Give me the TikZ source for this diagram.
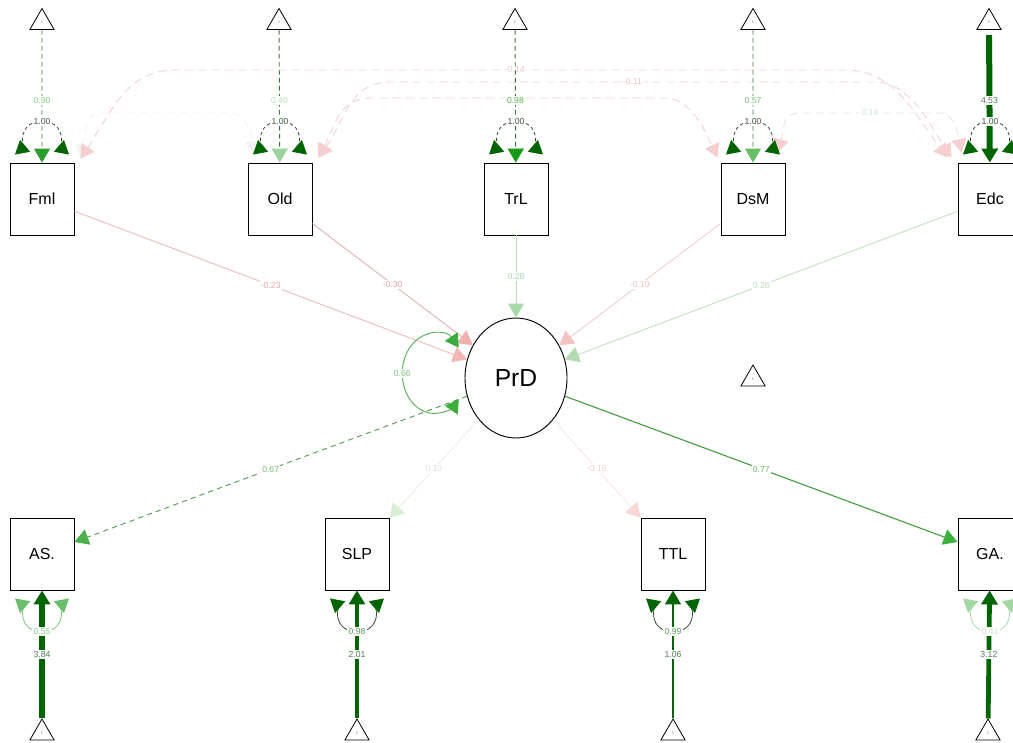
\documentclass[tikz,border=0pt]{standalone}
\usepackage{fontspec}
\setmainfont{Liberation Sans}
\usetikzlibrary{arrows.meta,shapes.geometric,calc}
% colours
\definecolor{dkg}{HTML}{006400}
\definecolor{loopdk}{HTML}{2E4A2E}
\definecolor{labdk}{HTML}{3A5A3A}
\definecolor{intdash}{HTML}{3C7A3C}
\definecolor{cIa}{HTML}{2A9E2A}\definecolor{cIl}{HTML}{84CA84}
\definecolor{cIIa}{HTML}{9ED39E}\definecolor{cIIl}{HTML}{B6DDB6}
\definecolor{cIIIa}{HTML}{159A15}\definecolor{cIIIl}{HTML}{52B152}
\definecolor{cIVa}{HTML}{66BE66}\definecolor{cIVl}{HTML}{7CC67C}
\definecolor{labint}{HTML}{4E7E4E}
\definecolor{pFmlL}{HTML}{EDBDBD}\definecolor{pFmlA}{HTML}{F2B6B6}\definecolor{pFmlT}{HTML}{EFA8A8}
\definecolor{pOldL}{HTML}{E6B2B2}\definecolor{pOldA}{HTML}{F0B0B0}\definecolor{pOldT}{HTML}{E9A5A5}
\definecolor{gTrLL}{HTML}{B6DDB6}\definecolor{gTrLA}{HTML}{AAD9AA}\definecolor{gTrLT}{HTML}{A9D8A9}
\definecolor{pDsML}{HTML}{F2CFCF}\definecolor{pDsMA}{HTML}{F4C2C2}\definecolor{pDsMT}{HTML}{F2BEBE}
\definecolor{gEdcL}{HTML}{C2E4C2}\definecolor{gEdcA}{HTML}{B0DAB0}\definecolor{gEdcT}{HTML}{B6DEB6}
\definecolor{gASL}{HTML}{4FA04F}\definecolor{gASA}{HTML}{4CB04C}\definecolor{gAST}{HTML}{74BE74}
\definecolor{gSLPL}{HTML}{E4F2E4}\definecolor{gSLPA}{HTML}{D6EDD6}\definecolor{gSLPT}{HTML}{D2EAD2}
\definecolor{pTTLL}{HTML}{F8E6E6}\definecolor{pTTLA}{HTML}{F8D6D6}\definecolor{pTTLT}{HTML}{F3D2D2}
\definecolor{gGAL}{HTML}{3C9C3C}\definecolor{gGAA}{HTML}{3DB03D}\definecolor{gGAT}{HTML}{6ABA6A}
\definecolor{covL}{HTML}{F4D4D4}\definecolor{covA}{HTML}{F5CFCF}\definecolor{covT}{HTML}{F0C2C2}
\definecolor{covF}{HTML}{F3F3F3}\definecolor{covG}{HTML}{EDE4E4}\definecolor{covGT}{HTML}{CFE8CF}
\definecolor{lpAS}{HTML}{7CC47C}\definecolor{lpASa}{HTML}{6ABF6A}\definecolor{lpASt}{HTML}{8ACF8A}
\definecolor{lpGA}{HTML}{A8D8A8}\definecolor{lpGAa}{HTML}{A4D6A4}\definecolor{lpGAt}{HTML}{C4E4C4}
\definecolor{lpmid}{HTML}{5C9C5C}
\definecolor{prdL}{HTML}{5AAE5A}\definecolor{prdA}{HTML}{3DAE3D}\definecolor{prdT}{HTML}{80C880}
\tikzset{
  box/.style={draw=black, line width=0.7pt, minimum width=48pt, minimum height=54pt, inner sep=0pt, fill=white, font=\fontsize{12}{14}\selectfont},
  lat/.style={ellipse, draw=black, line width=0.7pt, minimum width=76.5pt, minimum height=90pt, inner sep=0pt, fill=white, font=\fontsize{18.5}{20}\selectfont},
  tri/.style={regular polygon, regular polygon sides=3, draw=black, line width=0.6pt, minimum size=21pt, inner sep=0pt, text=gray, font=\fontsize{3}{3}\selectfont},
  lab/.style={fill=white, inner sep=1pt, font=\fontsize{6.5}{7}\selectfont},
  ah/.style={arrows={-Triangle[length=10.5pt,width=12pt,color=#1]}},
  ahh/.style={arrows={Triangle[length=10pt,width=11.5pt,color=#1]-Triangle[length=10pt,width=11.5pt,color=#1]}},
  intdashed/.style={draw=intdash, line width=0.7pt, dash pattern=on 3.5pt off 2.5pt},
  covline/.style={line width=0.7pt, dash pattern=on 6pt off 4pt},
}
\newcommand{\looptop}[5]{%
  \begin{scope}[shift={(#1.north)}]
  \draw[draw=#2, line width=0.6pt, #5, ahh=#3] (-27,-8) .. controls (-20,-14) and (-25,-41) .. (0,-41) node[lab,text=#4]{1.00} .. controls (25,-41) and (20,-14) .. (27,-8);
  \end{scope}}
\newcommand{\loopbot}[6]{%
  \begin{scope}[shift={(#1.south)}]
  \draw[draw=#2, line width=0.6pt, ahh=#3] (-27,8) .. controls (-20,14) and (-25,41) .. (0,41) node[lab,text=#4]{#5} .. controls (25,41) and (20,14) .. (27,8);
  \end{scope}}
\begin{document}
\begin{tikzpicture}[x=0.75pt,y=-0.75pt]
\useasboundingbox[fill=white] (0,0) rectangle (1013,742);
% nodes
\node[box] (Fml) at (42,199) {Fml};
\node[box] (Old) at (280,199) {Old};
\node[box] (TrL) at (516,199) {TrL};
\node[box] (DsM) at (753,199) {DsM};
\node[box] (Edc) at (990,199) {Edc};
\node[box] (AS) at (42,554) {AS.};
\node[box] (SLP) at (357,554) {SLP};
\node[box] (TTL) at (673,554) {TTL};
\node[box] (GA) at (990,554) {GA.};
\node[lat] (PrD) at (516,378) {PrD};
\node[tri] (t1) at (42,22.5) {1};
\node[tri] (t2) at (279,22.5) {1};
\node[tri] (t3) at (515,22.5) {1};
\node[tri] (t4) at (753,22.5) {1};
\node[tri] (t5) at (989,22.5) {1};
\node[tri] (b1) at (42,733) {1};
\node[tri] (b2) at (357,733) {1};
\node[tri] (b3) at (673,733) {1};
\node[tri] (b4) at (988,733) {1};
\node[tri] (tm) at (753,379) {1};
% covariances
\draw[covline, draw=covF, ahh=covF] ($(Fml.north east)+(6,-4)$) .. controls (85,135) and (85,113) .. (100,113) -- (232,113) .. controls (245,113) and (252,135) .. ($(Old.north west)+(6,-8)$);
\draw[covline, draw=covL, ahh=covA] ($(Fml.north east)+(6,-4)$) .. controls (110,115) and (125,70) .. (175,70) -- node[lab,text=covT,pos=0.507]{-0.14} (845,70) .. controls (895,70) and (915,115) .. ($(Edc.north west)+(-10,-5)$);
\draw[covline, draw=covL, ahh=covA] ($(Old.north east)+(6,-5)$) .. controls (345,120) and (350,82) .. (390,82) -- node[lab,text=covT,pos=0.5]{-0.11} (875,82) .. controls (910,82) and (930,125) .. ($(Edc.north west)+(-6,-5)$);
\draw[covline, draw=covL, ahh=covA] ($(Old.north east)+(6,-5)$) .. controls (335,125) and (340,98) .. (370,98) -- (665,98) .. controls (690,98) and (705,130) .. ($(DsM.north west)+(-3,-5)$);
\draw[covline, draw=covG, ahh=covA] ($(DsM.north east)+(-8,-10)$) .. controls (785,125) and (782,113) .. (800,113) -- node[lab,text=covGT,pos=0.5]{0.14} (940,113) .. controls (955,113) and (958,135) .. ($(Edc.north west)+(4,-10)$);
% top intercepts
\draw[intdashed, ah=cIa] (t1) -- node[lab,text=cIl,pos=0.53]{0.90} (Fml);
\draw[intdashed, ah=cIIa] (t2) -- node[lab,text=cIIl,pos=0.53]{0.40} (Old);
\draw[intdashed, ah=cIIIa] (t3) -- node[lab,text=cIIIl,pos=0.53]{0.98} (TrL);
\draw[intdashed, ah=cIVa] (t4) -- node[lab,text=cIVl,pos=0.53]{0.57} (DsM);
\draw[draw=dkg, line width=4.5pt, shorten <=4pt, ah=dkg] (t5) -- node[lab,text=labint,pos=0.53]{4.53} (Edc);
% top variance loops
\looptop{Fml}{loopdk}{dkg}{labdk}{dash pattern=on 2.5pt off 2pt}
\looptop{Old}{loopdk}{dkg}{labdk}{dash pattern=on 2.5pt off 2pt}
\looptop{TrL}{loopdk}{dkg}{labdk}{dash pattern=on 2.5pt off 2pt}
\looptop{DsM}{loopdk}{dkg}{labdk}{dash pattern=on 2.5pt off 2pt}
\looptop{Edc}{loopdk}{dkg}{labdk}{dash pattern=on 2.5pt off 2pt}
% regressions into PrD
\draw[draw=pFmlL, line width=0.7pt, ah=pFmlA] (Fml) -- node[lab,text=pFmlT]{-0.23} (PrD);
\draw[draw=pOldL, line width=0.7pt, ah=pOldA] (Old) -- node[lab,text=pOldT]{-0.30} (PrD);
\draw[draw=gTrLL, line width=0.7pt, ah=gTrLA] (TrL) -- node[lab,text=gTrLT]{0.28} (PrD);
\draw[draw=pDsML, line width=0.7pt, ah=pDsMA] (DsM) -- node[lab,text=pDsMT]{-0.19} (PrD);
\draw[draw=gEdcL, line width=0.7pt, ah=gEdcA] (Edc) -- node[lab,text=gEdcT]{0.26} (PrD);
% loadings
\draw[draw=gASL, line width=0.7pt, dash pattern=on 4pt off 3pt, ah=gASA] (PrD) -- node[lab,text=gAST]{0.67} (AS);
\draw[draw=gSLPL, line width=0.7pt, ah=gSLPA] (PrD) -- node[lab,text=gSLPT]{0.13} (SLP);
\draw[draw=pTTLL, line width=0.7pt, ah=pTTLA] (PrD) -- node[lab,text=pTTLT]{-0.16} (TTL);
\draw[draw=gGAL, line width=0.8pt, ah=gGAA] (PrD) -- node[lab,text=gGAT]{0.77} (GA);
% PrD residual loop
\draw[draw=prdL, line width=0.7pt, ahh=prdA] ($(PrD.west)+(-5.8,-30.3)$) arc[start angle=-40, end angle=-180, x radius=32, y radius=40] node[lab,text=prdT]{0.66} arc[start angle=-180, end angle=-320, x radius=32, y radius=40];
% bottom intercepts
\draw[draw=dkg, line width=5pt, ah=dkg] (b1) -- node[lab,text=labint,pos=0.5]{3.84} (AS);
\draw[draw=dkg, line width=2.3pt, ah=dkg] (b2) -- node[lab,text=labint,pos=0.5]{2.01} (SLP);
\draw[draw=dkg, line width=0.8pt, ah=dkg] (b3) -- node[lab,text=labint,pos=0.5]{1.06} (TTL);
\draw[draw=dkg, line width=3.6pt, ah=dkg] (b4) -- node[lab,text=labint,pos=0.5]{3.12} (GA);
% bottom variance loops
\loopbot{AS}{lpAS}{lpASa}{lpASt}{0.55}{}
\loopbot{SLP}{loopdk}{dkg}{lpmid}{0.98}{}
\loopbot{TTL}{loopdk}{dkg}{lpmid}{0.99}{}
\loopbot{GA}{lpGA}{lpGAa}{lpGAt}{0.41}{}
\end{tikzpicture}
\end{document}
